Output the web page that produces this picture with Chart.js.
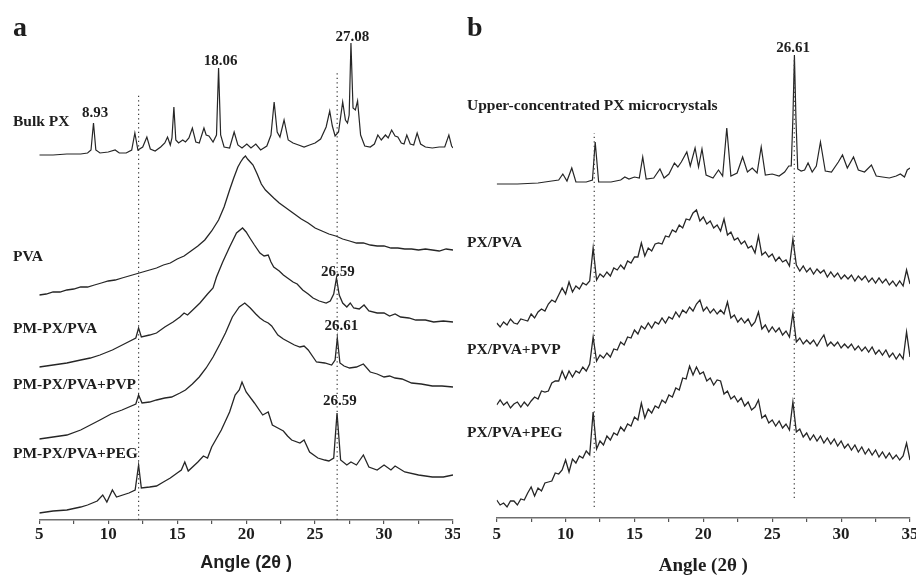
<!DOCTYPE html>
<html><head><meta charset="utf-8">
<script src="https://cdn.jsdelivr.net/npm/chart.js@4.4.1/dist/chart.umd.min.js"></script>
<style>
html,body{margin:0;padding:0;background:#fff;overflow:hidden;width:916px;height:579px;position:relative;}
#ca{position:absolute;left:0;top:0;width:480px;height:579px;}
#cb{position:absolute;left:460px;top:0;width:470px;height:579px;background:#fff;}
</style></head><body>
<canvas id="ca" width="480" height="579"></canvas>
<canvas id="cb" width="470" height="579"></canvas>
<script>
// ---------------- Panel a data (2θ, intensity in arbitrary stacked units) ----------------
const bulkX = [5,6,7,8,8.5,8.75,8.93,9.1,9.4,10,10.5,10.8,11.3,11.7,11.93,12.15,12.5,12.8,13.05,13.4,13.8,14.1,14.3,14.5,14.62,14.76,14.9,15.1,15.4,15.6,15.85,16.1,16.35,16.6,16.94,17.1,17.3,17.6,17.85,18.0,18.15,18.4,18.8,19.13,19.4,19.7,20.05,20.35,20.7,21.05,21.5,21.8,22.03,22.25,22.45,22.75,23.05,23.4,23.8,24.2,24.6,25.0,25.4,25.8,26.06,26.25,26.45,26.7,27.0,27.2,27.35,27.47,27.6,27.75,27.92,28.08,28.3,28.6,29.0,29.3,29.55,29.8,30.1,30.3,30.55,30.8,31.0,31.25,31.45,31.65,31.9,32.15,32.4,32.65,33.0,33.5,34.0,34.4,34.7,34.9,35];
const bulkY = [365,365,366,366,367,370,397,370,367,368,370,367,367,370,387,370,373,383,371,369,373,377,383,375,382,413,380,377,380,378,382,392,378,377,392,385,384,378,385,452,385,373,372,388,375,372,376,372,376,370,374,385,418,388,383,400,380,377,375,373,375,377,381,393,409,394,384,388,418,400,397,405,477,412,410,419,385,374,373,376,385,380,385,382,390,384,383,377,376,385,376,375,387,376,373,372,373,373,385,374,372];

const pvaX = [5,5.5,6,6.5,7,7.5,8,8.5,9,9.5,10,10.5,11,11.5,12,12.5,13,13.5,14,14.5,15,15.5,16,16.5,17,17.5,18,18.4,18.8,19.1,19.4,19.6,19.8,19.95,20.1,20.3,20.5,20.8,21.1,21.4,21.7,22,22.4,22.8,23.2,23.6,24,24.5,25,25.5,26,26.5,27,27.5,28,28.5,29,29.5,30,30.5,31,31.5,32,32.5,33,33.5,34,34.5,35];
const pvaY = [225,226,228,228,230,231,233,233,235,237,239,240,242,244,246,248,250,252,255,257,261,264,269,274,280,289,300,313,330,342,353,358,362,364,361,358,355,346,336,330,326,322,317,313,309,305,301,297,292,289,286,284,281,279,277,277,275,274,274,272,272,271,271,270,271,270,269,271,270];

const pmX = [5,6,7,8,8.7,9.4,10.3,11.3,12.0,12.2,12.4,13,13.5,14.1,14.7,15.2,15.5,15.75,16.2,16.65,17.2,17.6,17.85,18.3,18.8,19.3,19.74,20.0,20.27,20.6,21.0,21.3,21.6,21.8,22.0,22.4,22.7,23.0,23.4,23.7,24.1,24.5,24.85,25.3,25.8,26.1,26.35,26.55,26.75,27.0,27.3,27.55,27.8,28.2,28.55,28.9,29.5,30.0,30.4,30.8,31.2,31.8,32.3,33,33.6,34.3,35];
const pmY = [153,155,157,160,162,165,170,177,182,192,183,185,187,193,198,203,207,205,211,217,226,232,243,258,273,287,292,288,282,275,267,264,265,258,253,249,245,242,238,236,230,226,222,219,217,219,226,242,225,217,213,217,212,211,215,209,207,207,204,206,203,202,200,200,198,199,198];

const pvpX = [5,6,7,8,9.4,10.2,11,12.0,12.2,12.45,13,13.5,14.1,14.6,15.2,15.6,16.1,16.6,17.1,17.6,18.1,18.5,19.0,19.5,19.9,20.3,20.7,21.0,21.3,21.6,21.85,22.3,22.7,23.1,23.5,23.9,24.2,24.5,25.1,25.7,26.2,26.45,26.61,26.8,27.1,27.5,28.0,28.5,29.0,29.5,30.0,30.4,30.8,31.3,32,32.7,33.5,34.2,35];
const pvpY = [81,83,85,90,100,106,110,116,125,117,118,120,122,123,127,130,136,143,152,163,176,187,203,213,217,212,206,202,199,197,194,185,181,178,175,173,174,170,158,157,155,160,182,157,154,152,153,156,148,146,143,144,142,141,137,136,134,134,133];

const pegX = [5,6,7,8,8.5,9.2,9.6,9.9,10.3,10.6,11.5,11.95,12.2,12.4,13,13.5,14,14.5,15.0,15.3,15.55,15.8,16.5,16.9,17.2,17.5,18.2,18.8,19.2,19.5,19.7,20.0,20.6,21.2,21.6,21.9,22.3,22.7,23.0,23.3,23.9,24.2,24.6,25.2,25.7,26.0,26.35,26.59,26.85,27.3,27.6,28.0,28.5,28.9,29.5,30.0,30.5,30.8,31.5,32.5,33.5,34.3,35];
const pegY = [7,9,10,13,15,19,25,18,30,23,27,30,55,32,33,34,38,42,47,50,58,49,58,64,62,73,90,108,125,130,138,128,117,105,108,95,92,89,84,80,77,80,68,62,60,59,62,107,60,55,58,55,65,53,50,55,50,54,48,45,43,43,45];

// Reference dotted lines (2θ positions) and their vertical extent, panel a
const refLinesA = [12.2, 26.6];
const refTopsA = [427, 447];

// Labels, panel a
const namesA = ['Bulk PX','PVA','PM-PX/PVA','PM-PX/PVA+PVP','PM-PX/PVA+PEG'];
const nameLevelsA = [398, 263, 191, 135, 66];
const peakTextA = ['8.93','18.06','27.08','26.59','26.61','26.59'];
const peakXA = [9.04, 18.15, 27.7, 26.65, 26.9, 26.8];
const peakLevelA = [407, 459, 483, 248, 194, 119];

// ---------------- Panel b data ----------------
const upperX = [5,6.5,8,9.0,9.5,9.8,10.1,10.45,10.75,11.5,11.95,12.15,12.4,13.3,14.0,14.3,14.6,15.0,15.35,15.6,15.85,16.4,16.85,17.15,17.5,17.9,18.15,18.4,18.8,19.05,19.4,19.65,19.9,20.2,20.7,21.1,21.4,21.7,22.0,22.45,22.85,23.2,23.55,23.9,24.2,24.5,25.0,25.5,25.9,26.2,26.38,26.5,26.61,26.72,26.85,27.1,27.35,27.6,27.9,28.2,28.5,28.85,29.3,29.8,30.1,30.45,30.9,31.25,31.7,32.2,32.55,33.0,33.5,34.0,34.3,34.6,34.8,35];
const upperY = [334,334,335,337,338,344,337,350,336,336,338,376,336,336,338,341,339,341,340,361,339,340,349,340,344,355,351,356,366,352,370,351,369,343,340,348,342,390,342,345,361,346,350,345,371,343,344,342,346,352,352,400,463,400,349,347,348,355,346,352,376,347,346,356,363,350,361,348,346,353,342,341,340,342,344,341,348,350];

const gridXB = [5,5.25,5.5,5.75,6,6.25,6.5,6.75,7,7.25,7.5,7.75,8,8.25,8.5,8.75,9,9.25,9.5,9.75,10,10.25,10.5,10.75,11,11.25,11.5,11.75,12,12.25,12.5,12.75,13,13.25,13.5,13.75,14,14.25,14.5,14.75,15,15.25,15.5,15.75,16,16.25,16.5,16.75,17,17.25,17.5,17.75,18,18.25,18.5,18.75,19,19.25,19.5,19.75,20,20.25,20.5,20.75,21,21.25,21.5,21.75,22,22.25,22.5,22.75,23,23.25,23.5,23.75,24,24.25,24.5,24.75,25,25.25,25.5,25.75,26,26.25,26.5,26.75,27,27.25,27.5,27.75,28,28.25,28.5,28.75,29,29.25,29.5,29.75,30,30.25,30.5,30.75,31,31.25,31.5,31.75,32,32.25,32.5,32.75,33,33.25,33.5,33.75,34,34.25,34.5,34.75,35];

const pxpvaY = [195,191,196,193,199,195,194,199,198,197,
204,200,206,209,207,214,218,216,223,230,
224,236,226,232,229,235,233,237,270,238,
244,241,246,242,250,248,253,249,257,255,
261,261,275,262,270,267,274,275,274,282,
281,288,286,293,290,299,298,305,308,297,
301,294,297,290,293,287,299,283,286,278,
280,274,277,270,272,265,282,263,266,261,
264,257,261,256,258,252,279,253,247,252,
246,250,244,249,245,248,241,246,241,245,
239,243,239,243,237,242,238,242,236,240,
235,240,235,239,233,237,232,237,232,248,
234];

const pxpvpY = [113,118,113,116,110,114,116,111,116,112,
117,121,119,127,126,127,135,137,137,147,
139,147,141,147,145,151,147,154,181,157,
163,160,165,161,169,168,176,173,181,180,
188,184,192,189,195,190,196,194,200,195,
201,199,206,201,208,205,211,207,214,218,
207,211,205,209,204,208,204,216,200,203,
196,200,195,199,192,196,206,189,193,186,
191,186,190,183,187,181,205,176,180,174,
178,174,178,172,178,183,172,176,172,176,
170,174,170,174,168,172,167,171,166,171,
164,168,163,168,161,165,159,164,159,186,
161];

const pxpegY = [18,13,15,11,17,17,13,19,18,25,
31,22,30,27,35,36,37,45,44,48,
58,46,59,55,62,60,67,63,106,69,
77,73,82,78,85,83,91,87,94,92,
101,98,115,100,109,105,112,110,118,115,
123,121,130,128,140,139,152,143,151,144,
146,137,140,133,138,137,124,127,119,122,
116,120,112,116,108,111,118,100,103,95,
98,92,97,90,94,88,116,86,89,81,
85,78,83,77,82,75,80,74,79,72,
77,70,74,68,73,66,71,64,69,63,
68,61,66,60,65,59,63,58,62,75,
58];

const refLinesB = [12.08, 26.6];
const refBottomsB = [11, 20];
const refTopsB = [385, 458];

const namesB = ['Upper-concentrated PX microcrystals','PX/PVA','PX/PVA+PVP','PX/PVA+PEG'];
const nameLevelsB = [412, 275, 168, 85];
const peakTextB = ['26.61'];
const peakXB = [26.52];
const peakLevelB = [470];

const tickValues = [5,10,15,20,25,30,35];

// ---------------- helpers ----------------
const SERIF = "'Liberation Serif','Times New Roman',serif";
const SANS = "'Liberation Sans',Arial,sans-serif";
const LINE = '#262626';
const TXT = '#1e1e1e';

function pts(xs, ys){ return xs.map((x,i)=>({x:x, y:ys[i]})); }

function traceDS(xs, ys, w){
  return {data:pts(xs,ys), borderColor:LINE, borderWidth:w, pointRadius:0, tension:0, fill:false};
}
function refDS(x, y0, y1){
  return {data:[{x:x,y:y0},{x:x,y:y1}], borderColor:'#3a3a3a', borderWidth:1.2, borderDash:[1.3,3.2], pointRadius:0, fill:false};
}

function labelPlugin(letter, letterX, nameX, names, levels, pText, pX, pLevel){
  return {
    id:'labels'+letter,
    afterDraw(chart){
      const ctx = chart.ctx, xs = chart.scales.x, ys = chart.scales.y;
      ctx.save();
      ctx.fillStyle = TXT;
      ctx.textBaseline = 'alphabetic';
      ctx.textAlign = 'left';
      ctx.font = "bold 28px " + SERIF;
      ctx.fillText(letter, letterX, 36);
      ctx.textBaseline = 'middle';
      ctx.font = "bold 15.5px " + SERIF;
      names.forEach((n,i)=>{ ctx.fillText(n, nameX, ys.getPixelForValue(levels[i])); });
      ctx.textAlign = 'center';
      ctx.font = "bold 15px " + SERIF;
      pText.forEach((t,i)=>{ ctx.fillText(t, xs.getPixelForValue(pX[i]), ys.getPixelForValue(pLevel[i])); });
      ctx.restore();
    }
  };
}

function xScale(axisH, titleFont, titleSize, titlePadB, tickPad){
  return {
    type:'linear', min:5, max:35,
    afterBuildTicks(s){ s.ticks = [5,7.5,10,12.5,15,17.5,20,22.5,25,27.5,30,32.5,35].map(v=>({value:v})); },
    ticks:{autoSkip:false, maxRotation:0, padding:tickPad, color:TXT,
      font:{family:SERIF, size:17, weight:'bold'},
      callback:(v)=> tickValues.includes(v) ? String(v) : ''},
    grid:{display:true, drawOnChartArea:false, drawTicks:true, tickLength:4, color:'#555', lineWidth:1.2},
    border:{display:true, color:'#6e6e6e', width:1.6},
    title:{display:true, text:'Angle (2θ )', color:TXT, font:{family:titleFont, size:titleSize, weight:'bold'}, padding:{top:0,bottom:titlePadB}},
    afterFit(s){ s.height = axisH; }
  };
}

// ---------------- Panel a ----------------
new Chart(document.getElementById('ca'), {
  type:'line',
  data:{datasets:[
    refDS(refLinesA[0], 0, refTopsA[0]),
    refDS(refLinesA[1], 0, refTopsA[1]),
    traceDS(bulkX, bulkY, 1.2),
    traceDS(pvaX, pvaY, 1.3),
    traceDS(pmX, pmY, 1.3),
    traceDS(pvpX, pvpY, 1.3),
    traceDS(pegX, pegY, 1.3)
  ]},
  options:{
    responsive:false, animation:false, devicePixelRatio:1,
    layout:{padding:{left:39.3, right:27, top:0, bottom:0}},
    plugins:{legend:{display:false}, tooltip:{enabled:false}},
    scales:{ x:xScale(59, SANS, 18, 5, 0), y:{display:false, min:0, max:520} }
  },
  plugins:[labelPlugin('a', 13, 13, namesA, nameLevelsA, peakTextA, peakXA, peakLevelA)]
});

// ---------------- Panel b ----------------
new Chart(document.getElementById('cb'), {
  type:'line',
  data:{datasets:[
    refDS(refLinesB[0], refBottomsB[0], refTopsB[0]),
    refDS(refLinesB[1], refBottomsB[1], refTopsB[1]),
    traceDS(upperX, upperY, 1.2),
    traceDS(gridXB, pxpvaY, 1.3),
    traceDS(gridXB, pxpvpY, 1.3),
    traceDS(gridXB, pxpegY, 1.3)
  ]},
  options:{
    responsive:false, animation:false, devicePixelRatio:1,
    layout:{padding:{left:36.7, right:20, top:0, bottom:0}},
    plugins:{legend:{display:false}, tooltip:{enabled:false}},
    scales:{ x:xScale(61, SERIF, 19, 2, 2), y:{display:false, min:0, max:518} }
  },
  plugins:[labelPlugin('b', 7, 7, namesB, nameLevelsB, peakTextB, peakXB, peakLevelB)]
});
</script>
</body></html>
